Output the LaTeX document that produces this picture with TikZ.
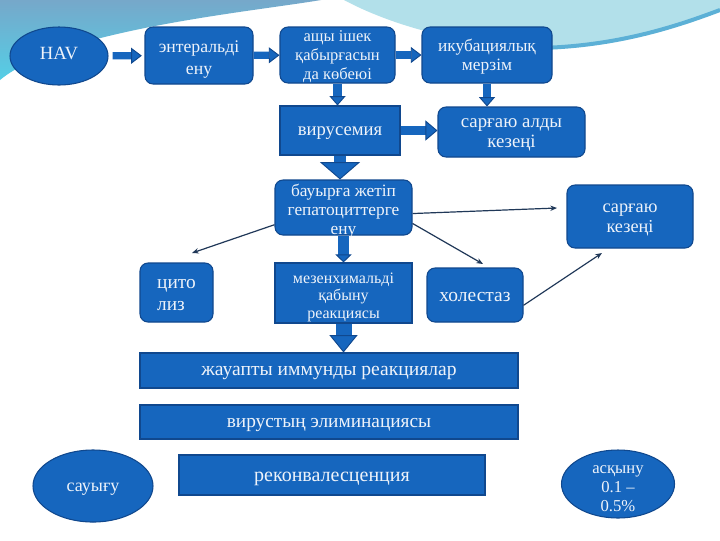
\documentclass[tikz,border=0pt]{standalone}
\usepackage{fontspec}
\setmainfont{Liberation Serif}
\usetikzlibrary{arrows.meta, shapes.geometric}

\definecolor{boxblue}{RGB}{22,102,190}
\definecolor{boxedge}{RGB}{16,72,142}
\definecolor{txtcol}{RGB}{238,243,250}
\definecolor{linkcol}{RGB}{32,56,88}
\definecolor{bgsteel}{RGB}{118,168,202}
\definecolor{bgcyan}{RGB}{84,206,230}
\definecolor{bglight}{RGB}{178,224,234}
\definecolor{bgstripe}{RGB}{92,176,214}

\begin{document}
\begin{tikzpicture}[x=0.75pt, y=-0.75pt,
    fs/.style 2 args={font=\fontsize{#1}{#2}\selectfont},
    th/.style={text height=#1, text depth=0pt},
    box/.style={draw=boxedge, line width=0.8pt, fill=boxblue, text=txtcol, align=center, inner sep=0pt},
    rbox/.style={box, rounded corners=6pt},
    oval/.style={box, ellipse},
    fat/.style n args={3}{draw=boxblue, line width=#1, -{Triangle[length=#3, width=#2, line width=0.7pt, fill=boxblue, color=boxedge]}},
    link/.style={-{Stealth[length=5pt, width=4pt]}, linkcol, line width=0.9pt}
]
    \useasboundingbox (0,0) rectangle (720,540);
    % slide background
    \fill[white] (0,0) rectangle (720,540);
    \shade[top color=bgsteel, bottom color=bgcyan] (0,0) -- (321,0) .. controls (250,12) and (60,30) .. (0,80) -- cycle;
    \fill[bglight] (344,0) .. controls (400,30) and (480,48) .. (550,48) .. controls (620,46) and (680,25) .. (720,10) -- (720,0) -- cycle;
    \draw[bgstripe, line width=3pt] (540,48) .. controls (620,46) and (680,25) .. (720,10);

    % top row
    \node[oval, fs={14}{15}, text depth=4.5pt, minimum width=73.5pt, minimum height=43.5pt] (hav) at (59,56) {HAV};
    \node[rbox, fs={13.3}{16.5}, th=28.2pt, minimum width=81pt, minimum height=42.75pt] (ent) at (199,55.5) {энтеральді\\ену};
    \node[rbox, fs={12.4}{14.3}, th=36.2pt, minimum width=86.25pt, minimum height=42pt] (gut) at (337.5,55) {ащы ішек\\қабырғасын\\да көбеюі};
    \node[rbox, fs={13}{14.3}, th=23.7pt, minimum width=97.5pt, minimum height=42pt] (incub) at (487,55) {икубациялық\\мерзім};

    % second row
    \node[box, fs={14}{15}, th=7.3pt, minimum width=90pt, minimum height=36.75pt] (vir) at (340,130.5) {вирусемия};
    \node[rbox, fs={14.1}{15}, th=23.2pt, minimum width=110.25pt, minimum height=37.5pt] (prei) at (511.5,132) {сарғаю алды\\кезеңі};

    % liver
    \node[rbox, fs={13}{14.5}, th=41.2pt, minimum width=102.75pt, minimum height=41.25pt] (hep) at (343.5,207.5) {бауырға жетіп\\гепатоциттерге\\ену};
    \node[rbox, fs={13.7}{15}, th=24.4pt, minimum width=94.5pt, minimum height=47.25pt] (icter) at (630,216.5) {сарғаю\\кезеңі};
    \node[box, fs={12}{12.8}, th=37.5pt, minimum width=102.75pt, minimum height=45pt] (mes) at (343.5,293) {мезенхимальді\\қабыну\\реакциясы};
    \node[rbox, fs={14.5}{16.5}, th=27.7pt, minimum width=54.75pt, minimum height=44.25pt, align=left] (cyto) at (176.5,292.5) {цито\\лиз};
    \node[rbox, fs={14.6}{15}, th=9.7pt, minimum width=72pt, minimum height=40.5pt] (chol) at (475,295) {холестаз};

    % bottom part
    \node[box, fs={14.7}{15}, th=6.8pt, minimum width=283.5pt, minimum height=26.25pt] (immune) at (329,370.5) {жауапты иммунды реакциялар};
    \node[box, fs={14.5}{15}, th=7.5pt, minimum width=283.5pt, minimum height=25.5pt] (elim) at (329,422) {вирустың элиминациясы};
    \node[box, fs={15}{15}, th=9.9pt, minimum width=229.5pt, minimum height=30pt] (conv) at (332,475) {реконвалесценция};
    \node[oval, fs={13.5}{15}, th=7.7pt, minimum width=90pt, minimum height=54pt] (recov) at (93,486) {сауығу};
    \node[oval, fs={12.5}{14.3}, th=41.5pt, inner ysep=-4pt, minimum width=84.75pt, minimum height=51pt] (compl) at (618,484) {асқыну\\0.1 –\\0.5\%};

    % block arrows
    \draw[fat={5.5pt}{12pt}{8pt}, shorten <=3pt, shorten >=2pt] (hav) -- (ent);
    \draw[fat={5.5pt}{12pt}{8pt}] (ent) -- (gut);
    \draw[fat={5.5pt}{12pt}{8pt}] (gut) -- (incub);
    \draw[fat={6.5pt}{12pt}{7pt}] (gut.south) -- (gut.south |- vir.north);
    \draw[fat={6.5pt}{12pt}{7pt}] (incub.south) -- (incub.south |- prei.north);
    \draw[fat={6.5pt}{15pt}{9pt}] (vir.east) -- (vir.east -| prei.west);
    \draw[fat={9pt}{30pt}{13pt}] (vir.south) -- (vir.south |- hep.north);
    \draw[fat={8pt}{12pt}{6pt}] (hep.south) -- (mes.north);
    \draw[fat={12pt}{21pt}{13pt}] (mes.south) -- (mes.south |- immune.north);

    % thin arrows
    \coordinate (cytotip) at (192,253);
    \coordinate (ictertip) at (557,208);
    \coordinate (choltip) at (483,264);
    \coordinate (icterlow) at (602,253);
    \draw[link] (hep.194) -- (cytotip);
    \draw[link] (hep.-5) -- (ictertip);
    \draw[link] (hep.-13) -- (choltip);
    \draw[link] (chol.-12) -- (icterlow);
\end{tikzpicture}
\end{document}
